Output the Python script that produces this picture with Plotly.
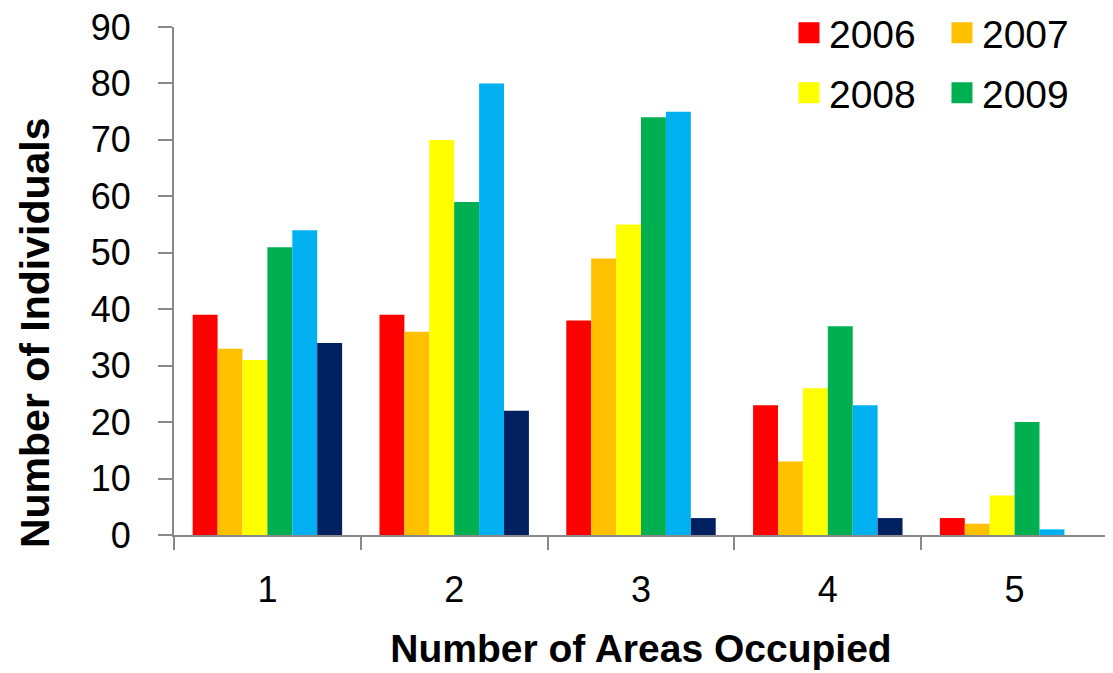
import plotly.graph_objects as go

categories = ["1", "2", "3", "4", "5"]
series_names = ["2006", "2007", "2008", "2009", "2010", "2011"]
colors = ["#FF0000", "#FFC000", "#FFFF00", "#00B050", "#00B0F0", "#002060"]
v2006 = [39, 39, 38, 23, 3]
v2007 = [33, 36, 49, 13, 2]
v2008 = [31, 70, 55, 26, 7]
v2009 = [51, 59, 74, 37, 20]
v2010 = [54, 80, 75, 23, 1]
v2011 = [34, 22, 3, 3, 0]
values = [v2006, v2007, v2008, v2009, v2010, v2011]
legend_for = ["legend", "legend", "legend2", "legend2", None, None]

FONT = "Liberation Sans, Arial, sans-serif"

fig = go.Figure()
for name, col, vals in zip(series_names, colors, values):
    fig.add_trace(go.Bar(x=categories, y=vals, name=name, marker=dict(color=col, line=dict(width=0)),
                         showlegend=False))
# legend entries (large square swatches)
for name, col, lg in zip(series_names, colors, legend_for):
    if lg is None:
        continue
    fig.add_trace(go.Scatter(x=[None], y=[None], name=name, mode="markers", legend=lg,
                             marker=dict(symbol="square", size=16, color=col,
                                         line=dict(color=col, width=5))))

axis_col = "#898989"
fig.update_layout(
    width=1113, height=673,
    margin=dict(l=166, r=13, t=19, b=146, autoexpand=False),
    paper_bgcolor="white", plot_bgcolor="white",
    barmode="group", bargap=0.2, bargroupgap=0,
    font=dict(family=FONT, color="black"),
    legend=dict(orientation="h", xref="container", yref="container", x=0.7017, y=0.9629,
                xanchor="left", yanchor="middle", font=dict(size=39, family=FONT),
                entrywidth=108, bgcolor="rgba(0,0,0,0)", tracegroupgap=0),
    legend2=dict(orientation="h", xref="container", yref="container", x=0.7017, y=0.8737,
                 xanchor="left", yanchor="middle", font=dict(size=39, family=FONT),
                 entrywidth=108, bgcolor="rgba(0,0,0,0)", tracegroupgap=0),
    xaxis=dict(type="category", tickson="boundaries", ticks="outside", ticklen=13,
               tickwidth=2, tickcolor=axis_col, showline=True, linecolor=axis_col, linewidth=2,
               showgrid=False, zeroline=False, tickfont=dict(size=36, family=FONT),
               ticklabelstandoff=22,
               title=dict(text="<b>Number of Areas Occupied</b>", font=dict(size=39, family=FONT),
                          standoff=25)),
    yaxis=dict(range=[0, 90], dtick=10, ticks="outside", ticklen=14, tickwidth=2,
               tickcolor=axis_col, showline=True, linecolor=axis_col, linewidth=2,
               showgrid=False, zeroline=False, tickfont=dict(size=36, family=FONT),
               ticklabelstandoff=20, ticklabeloverflow="allow"),
    annotations=[dict(text="<b>Number of Individuals</b>", textangle=-90, showarrow=False,
                      xref="paper", yref="paper", x=-0.1488, y=0.3976,
                      xanchor="center", yanchor="middle", font=dict(size=41, family=FONT))],
)

fig.write_html("out.html")
